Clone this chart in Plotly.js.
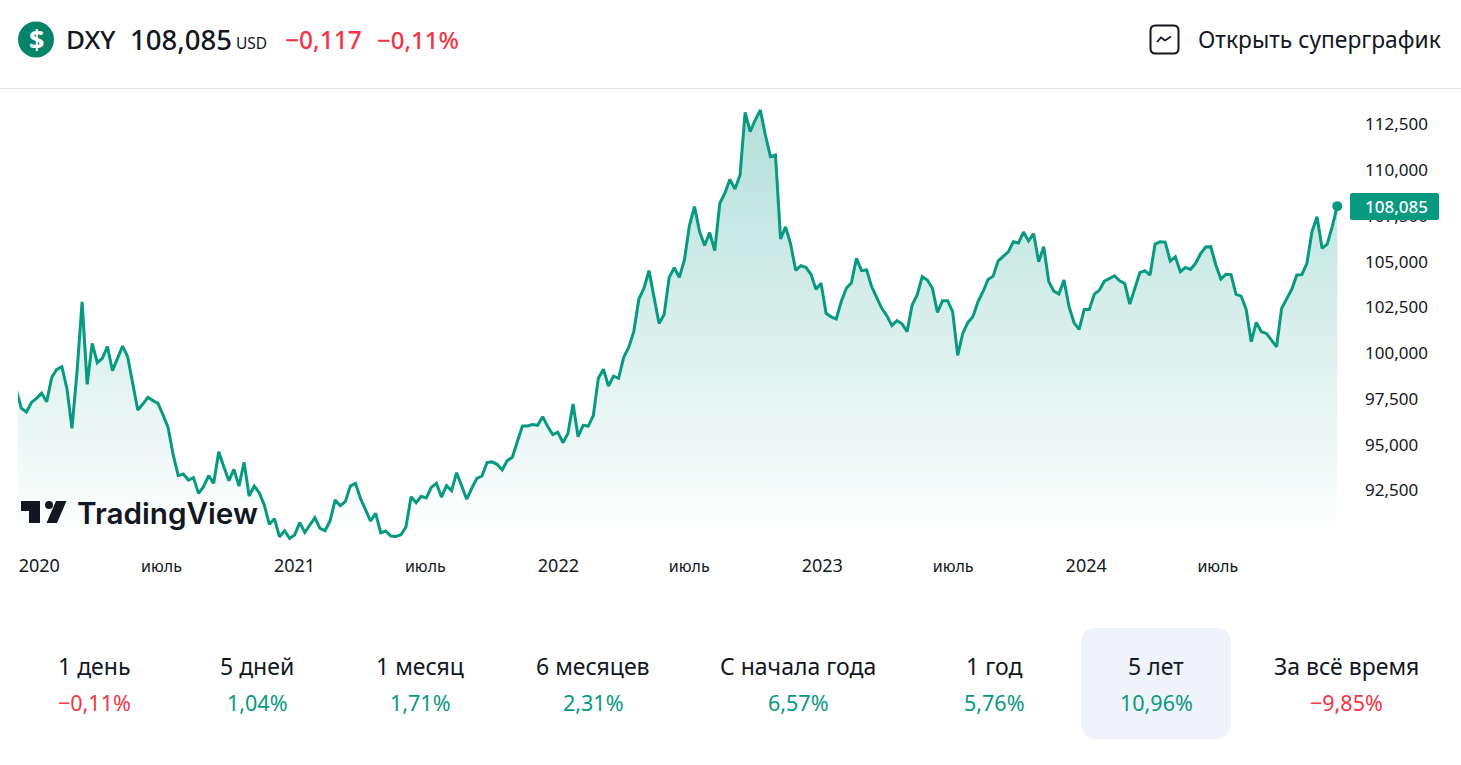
<!DOCTYPE html>
<html><head><meta charset="utf-8">
<script src="https://cdn.plot.ly/plotly-3.0.1.min.js"></script>
<style>html,body{margin:0;padding:0;background:#fff;overflow:hidden}#c{width:1461px;height:765px}</style>
</head><body><div id="c"></div>
<script>
const startDate = '2020-01-03';
const values = [98.04,97.04,96.84,97.36,97.58,97.86,97.40,98.73,99.17,99.31,98.13,95.94,99.04,102.86,98.35,100.59,99.53,99.77,100.41,99.10,
99.77,100.44,99.86,98.40,96.95,97.27,97.64,97.46,97.31,96.67,95.98,94.49,93.36,93.45,93.12,93.25,92.39,92.76,93.36,92.94,
94.67,93.85,93.08,93.70,92.79,94.09,92.25,92.79,92.43,91.75,90.70,91.01,90.02,90.35,89.93,90.12,90.79,90.26,90.66,91.06,
90.48,90.35,90.90,92.03,91.72,91.94,92.79,92.94,92.12,91.54,90.88,91.30,90.24,90.33,90.06,90.04,90.13,90.57,92.21,91.88,
92.23,92.14,92.72,92.94,92.19,92.81,92.54,93.52,92.76,92.07,92.67,93.21,93.34,94.07,94.11,93.98,93.67,94.18,94.36,95.16,
96.07,96.07,96.15,96.11,96.58,96.04,95.60,95.73,95.16,95.67,97.27,95.49,96.11,96.07,96.64,98.68,99.17,98.26,98.80,98.68,
99.82,100.37,101.23,103.00,103.59,104.56,103.14,101.67,102.16,104.19,104.72,104.19,105.14,107.02,108.06,106.69,105.93,106.64,105.65,108.24,
108.79,109.55,109.02,109.79,113.21,112.16,112.79,113.34,111.97,110.79,110.88,106.29,106.95,106.00,104.58,104.83,104.74,104.36,103.54,103.87,
102.23,102.03,101.92,102.87,103.60,103.90,105.23,104.56,104.60,103.69,103.09,102.50,102.10,101.56,101.83,101.66,101.23,102.68,103.23,104.23,
104.05,103.60,102.28,102.92,102.92,102.32,99.93,101.13,101.72,102.04,102.86,103.41,104.08,104.26,105.10,105.36,105.59,106.14,106.07,106.67,
106.18,106.58,105.05,105.87,103.95,103.44,103.28,104.05,102.59,101.71,101.35,102.44,102.44,103.28,103.50,103.99,104.12,104.28,104.01,103.86,
102.73,103.54,104.45,104.56,104.32,106.01,106.14,106.12,105.08,105.32,104.50,104.74,104.63,104.96,105.50,105.85,105.87,104.87,104.10,104.36,
104.34,103.26,103.17,102.44,100.68,101.73,101.22,101.13,100.77,100.40,102.50,102.99,103.54,104.32,104.34,104.96,106.69,107.51,105.78,106.01,
106.96,108.085];
const yTicks = [92.5,95,97.5,100,102.5,105,107.5,110,112.5];
const yTickText = ['92,500','95,000','97,500','100,000','102,500','105,000','107,500','110,000','112,500'];
const xTicks = ['2020-01-14','2020-07-01','2021-01-01','2021-07-01','2022-01-01','2022-07-01','2023-01-01','2023-07-01','2024-01-01','2024-07-01'];
const xTickText = ['2020','июль','2021','июль','2022','июль','2023','июль','2024','июль'];
const periodNames = ['1 день','5 дней','1 месяц','6 месяцев','С начала года','1 год','5 лет','За всё время'];
const periodValues = ['−0,11%','1,04%','1,71%','2,31%','6,57%','5,76%','10,96%','−9,85%'];
const periodCenters = [94,257,420,593,798,994,1156,1346];

const GREEN='#089981', RED='#f23645', DARK='#131722', FONT='"Noto Sans", sans-serif';
const L=18,R=1350,T=89,B=545,W=1461,H=765;
const px=x=>(x-L)/(R-L), py=y=>1-(y-T)/(B-T);
const dates=values.map((_,i)=>{const d=new Date(startDate+'T00:00:00Z');d.setUTCDate(d.getUTCDate()+7*i);return d.toISOString().slice(0,10);});
const xt=(x,y,text,size,color,anchor,weight)=>({xref:'paper',yref:'paper',x:px(x),y:py(y),text,showarrow:false,xanchor:anchor||'left',yanchor:'middle',font:{family:FONT,size,color,weight:weight||400}});
const annotations=[
 xt(36,39,'<b>$</b>',27,'#fff','center'),
 xt(64,39,'DXY',26,DARK,'left',500),
 xt(128,39,'108,085',27.5,DARK,'left',500),
 xt(234,43,'USD',15.5,DARK),
 xt(283,39,'−0,117',24.5,RED,'left',500),
 xt(375,39,'−0,11%',24,RED,'left',500),
 xt(1195.5,39,'Открыть суперграфик',22.8,DARK),
 {xref:'paper',yref:'paper',x:px(75),y:py(513),text:'TradingView',showarrow:false,xanchor:'left',yanchor:'middle',font:{family:'Inter, sans-serif',size:29.7,color:DARK,weight:600}},
 xt(1396,206,'108,085',17,'#fff','center',500)
];
periodNames.forEach((n,i)=>{
 annotations.push(xt(periodCenters[i],666,n,23,DARK,'center'));
 annotations.push(xt(periodCenters[i],702.5,periodValues[i],21.5,periodValues[i][0]==='−'?RED:GREEN,'center'));
});
const rr=(x0,y0,x1,y1,r)=>`M${px(x0+r)},${py(y0)} L${px(x1-r)},${py(y0)} Q${px(x1)},${py(y0)} ${px(x1)},${py(y0+r)} L${px(x1)},${py(y1-r)} Q${px(x1)},${py(y1)} ${px(x1-r)},${py(y1)} L${px(x0+r)},${py(y1)} Q${px(x0)},${py(y1)} ${px(x0)},${py(y1-r)} L${px(x0)},${py(y0+r)} Q${px(x0)},${py(y0)} ${px(x0+r)},${py(y0)} Z`;
const poly=pts=>'M'+pts.map(p=>px(p[0])+','+py(p[1])).join(' L')+' Z';
const ps=(path,fill,line,layer)=>({type:'path',xref:'paper',yref:'paper',path,fillcolor:fill||'rgba(0,0,0,0)',line:line||{width:0},layer:layer||'above'});
const shapes=[
 {type:'line',xref:'paper',yref:'paper',x0:px(0),x1:px(W),y0:py(88.5),y1:py(88.5),line:{color:'#e0e3eb',width:1},layer:'below'},
 {type:'circle',xref:'paper',yref:'paper',x0:px(18),x1:px(54),y0:py(21.5),y1:py(57.5),fillcolor:'#06846a',line:{width:0},layer:'below'},
 ps(rr(1150.5,25.5,1178.5,53.5,5),null,{color:DARK,width:2}),
 {type:'path',xref:'paper',yref:'paper',path:`M${px(1157)},${py(42)} L${px(1161)},${py(37.5)} L${px(1165)},${py(40.5)} L${px(1171)},${py(36.5)}`,line:{color:DARK,width:1.8}},
 ps(rr(1081,628,1231,739,16),'#f0f3fa',null,'below'),
 ps(poly([[21,501],[40,501],[40,523],[29,523],[29,511],[21,511]]),DARK),
 {type:'circle',xref:'paper',yref:'paper',x0:px(45),x1:px(53),y0:py(501),y1:py(509),fillcolor:DARK,line:{width:0}},
 ps(poly([[56,501],[66.5,501],[57,523],[46.5,523]]),DARK),
 ps(rr(1350,193,1439,220,2),GREEN)
];
const traces=[
 {x:dates,y:values,type:'scatter',mode:'lines',fill:'tozeroy',line:{color:GREEN,width:3,shape:'linear'},
  fillgradient:{type:'vertical',start:89.83,stop:113.34,colorscale:[[0,'rgba(8,153,129,0)'],[1,'rgba(8,153,129,0.31)']]},hoverinfo:'skip',showlegend:false},
 {x:[dates[dates.length-1]],y:[values[values.length-1]],type:'scatter',mode:'markers',marker:{color:GREEN,size:10},cliponaxis:false,hoverinfo:'skip',showlegend:false}
];
const layout={width:W,height:H,margin:{l:L,r:W-R,t:T,b:H-B},paper_bgcolor:'#fff',plot_bgcolor:'rgba(0,0,0,0)',showlegend:false,
 font:{family:FONT,color:DARK},
 xaxis:{type:'date',range:['2020-01-05 08:24','2025-01-20 14:00'],tickmode:'array',tickvals:xTicks,
  ticktext:xTickText.map(t=>t==='июль'?`<span style="font-size:16px">${t}</span>`:t),
  tickangle:0,ticklabelshift:15,ticklabelstandoff:8,showgrid:false,zeroline:false,showline:false,ticks:'',ticklen:0,tickfont:{family:FONT,size:18,color:DARK},fixedrange:true},
 yaxis:{side:'right',range:[89.57,114.485],tickmode:'array',tickvals:yTicks,ticktext:yTickText,ticks:'',ticklen:0,ticklabelstandoff:14,ticklabelshift:-1,showgrid:false,zeroline:false,showline:false,tickfont:{family:FONT,size:17,color:DARK},fixedrange:true},
 annotations,shapes};
Plotly.newPlot('c',traces,layout,{displayModeBar:false,staticPlot:true});
</script></body></html>
